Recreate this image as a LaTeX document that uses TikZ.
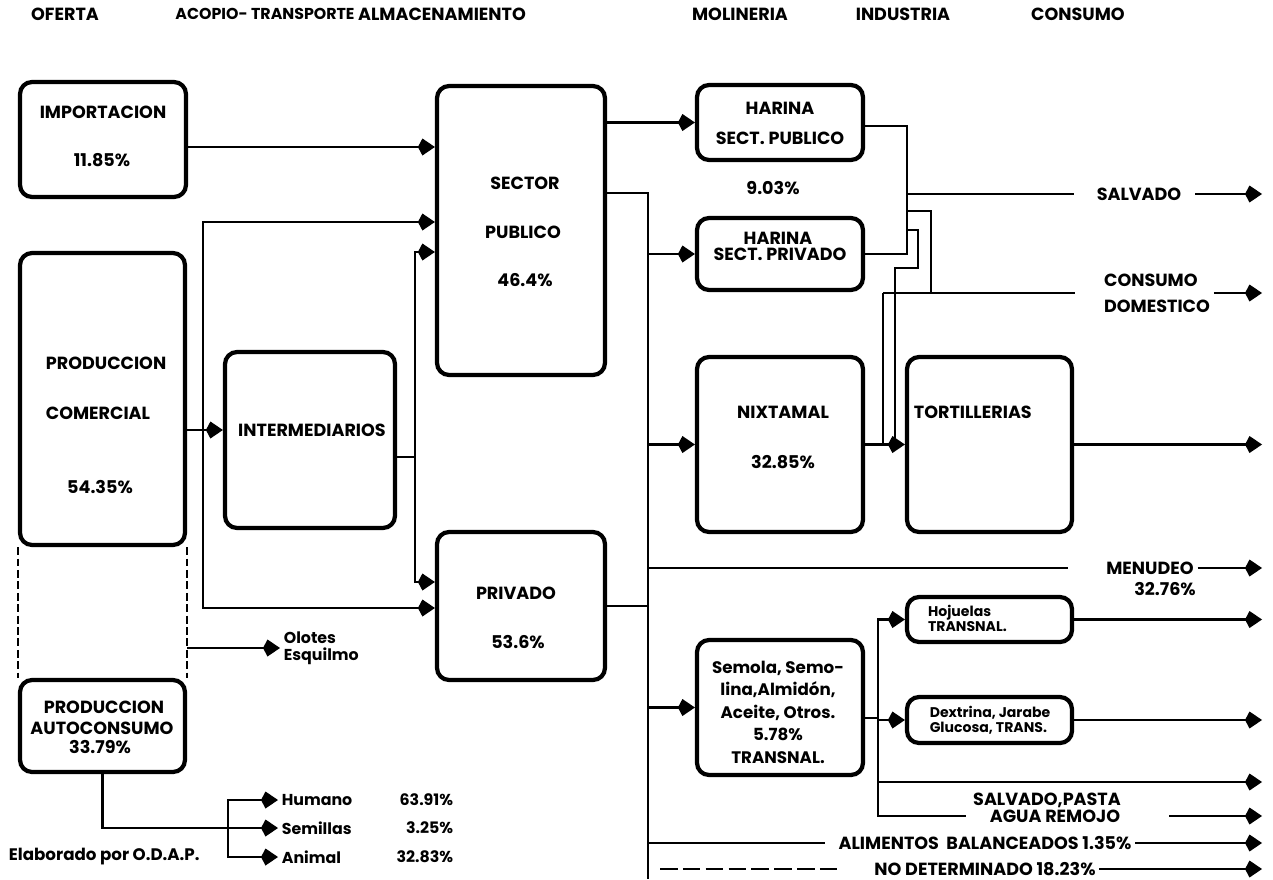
\documentclass[tikz,border=0pt]{standalone}
\usepackage{fontspec}
\setmainfont{Poppins}
\usetikzlibrary{arrows.meta}

\tikzset{
 caja/.style={draw, line width=2.4pt, rounded corners=0.24cm, inner sep=0pt},
 flecha/.style={line width=1.3pt, -{Kite[length=0.34cm,width=0.34cm,inset=0.09cm]}},
 linea/.style={line width=1.3pt},
 rotulo/.style={font=\bfseries\fontsize{10}{12}\selectfont, inner sep=2pt},
 medio/.style={font=\bfseries\fontsize{9}{9.6}\selectfont, inner sep=2pt},
 chico/.style={font=\bfseries\fontsize{8}{8.6}\selectfont, inner sep=1pt},
}

\begin{document}
\begin{tikzpicture}[x=0.02cm, y=-0.02cm]
 \path[use as bounding box, fill=white] (0,0) rectangle (1273,879);

 % columnas
 \node[rotulo] (T1) at (65,14) {OFERTA};
 \node[rotulo, font=\bfseries\fontsize{9}{11}\selectfont] (T2) at (265,14) {ACOPIO- TRANSPORTE};
 \node[rotulo] (T3) at (442,14) {ALMACENAMIENTO};
 \node[rotulo] (T4) at (740,14) {MOLINERIA};
 \node[rotulo] (T5) at (903,14) {INDUSTRIA};
 \node[rotulo] (T6) at (1078,14) {CONSUMO};

 % cajas
 \node[caja, minimum width=3.32cm, minimum height=2.30cm] (Imp) at (103,139.5) {};
 \node[caja, minimum width=3.30cm, minimum height=5.84cm] (Com) at (102.5,399) {};
 \node[caja, minimum width=3.30cm, minimum height=1.84cm] (Aut) at (102.5,726) {};
 \node[caja, minimum width=3.40cm, minimum height=3.52cm] (Int) at (310,440) {};
 \node[caja, minimum width=3.36cm, minimum height=5.78cm] (SP) at (521,230.5) {};
 \node[caja, minimum width=3.36cm, minimum height=2.96cm] (PR) at (521,606) {};
 \node[caja, minimum width=3.32cm, minimum height=1.50cm] (HP) at (780,122.5) {};
 \node[caja, minimum width=3.32cm, minimum height=1.44cm] (HV) at (780,254) {};
 \node[caja, minimum width=3.32cm, minimum height=3.50cm] (Nix) at (780,444.5) {};
 \node[caja, minimum width=3.30cm, minimum height=3.50cm] (Tor) at (989.5,444.5) {};
 \node[caja, minimum width=3.32cm, minimum height=2.70cm] (Sem) at (780,707.5) {};
 \node[caja, minimum width=3.30cm, minimum height=0.90cm] (Hoj) at (989.5,619.5) {};
 \node[caja, minimum width=3.30cm, minimum height=0.92cm] (Dex) at (989.5,720) {};

 % textos de las cajas
 \node[rotulo] (Imp1) at (103,112) {IMPORTACION};
 \node[rotulo] (Imp2) at (102,160) {11.85\%};
 \node[rotulo, anchor=west] (Com1) at (42,363) {PRODUCCION};
 \node[rotulo, anchor=west] (Com2) at (42,413) {COMERCIAL};
 \node[rotulo] (Com3) at (100,487) {54.35\%};
 \node[rotulo] (Int1) at (312,430) {INTERMEDIARIOS};
 \node[rotulo] (SP1) at (525,183) {SECTOR};
 \node[rotulo] (SP2) at (523,232) {PUBLICO};
 \node[rotulo] (SP3) at (525,280) {46.4\%};
 \node[rotulo] (PR1) at (516,593) {PRIVADO};
 \node[rotulo] (PR2) at (518,642) {53.6\%};
 \node[rotulo] (Aut1) at (104,707) {PRODUCCION};
 \node[rotulo] (Aut2) at (102,728) {AUTOCONSUMO};
 \node[rotulo] (Aut3) at (100,747) {33.79\%};
 \node[rotulo] (HP1) at (780,108) {HARINA};
 \node[rotulo] (HP2) at (780,138) {SECT. PUBLICO};
 \node[rotulo] (HPc) at (773,188) {9.03\%};
 \node[rotulo] (HV1) at (778,238) {HARINA};
 \node[rotulo] (HV2) at (780,254) {SECT. PRIVADO};
 \node[rotulo] (Nix1) at (783,412) {NIXTAMAL};
 \node[rotulo] (Nix2) at (783,462) {32.85\%};
 \node[rotulo, anchor=west] (Tor1) at (910,412) {TORTILLERIAS};
 \node[medio, align=center, font=\bfseries\fontsize{9.5}{12.8}\selectfont] (Sem1) at (778,712)
  {Semola, Semo-\\lina,Almidón,\\Aceite, Otros.\\5.78\%\\TRANSNAL.};
 \node[chico, align=left, anchor=west] (Hoj1) at (926,618) {Hojuelas\\TRANSNAL.};
 \node[chico, align=left] (Dex1) at (990,720) {Dextrina, Jarabe\\Glucosa, TRANS.};

 % consumo
 \node[rotulo] (Salv) at (1139,194) {SALVADO};
 \node[rotulo, align=left, font=\bfseries\fontsize{10}{14.7}\selectfont] (Dom) at (1157,293) {CONSUMO\\DOMESTICO};
 \node[rotulo] (Men) at (1150,568) {MENUDEO};
 \node[rotulo] (Men2) at (1165,589) {32.76\%};
 \node[rotulo] (Sp) at (1047,800) {SALVADO,PASTA};
 \node[rotulo] (Agua) at (1055,816) {AGUA REMOJO};
 \node[rotulo] (Ali) at (985,843) {ALIMENTOS\ \ BALANCEADOS 1.35\%};
 \node[rotulo] (NoD) at (985,869) {NO DETERMINADO 18.23\%};

 % autoconsumo
 \node[medio, align=left, anchor=west] (Olo) at (280,648) {Olotes\\Esquilmo};
 \node[medio, anchor=west] (Hum) at (278,800) {Humano};
 \node[medio, anchor=west] (Sml) at (278,828) {Semillas};
 \node[medio, anchor=west] (Ani) at (278,857) {Animal};
 \node[medio, anchor=east] (P1) at (457,800) {63.91\%};
 \node[medio, anchor=east] (P2) at (457,828) {3.25\%};
 \node[medio, anchor=east] (P3) at (457,857) {32.83\%};
 \node[medio, anchor=west, font=\bfseries\fontsize{9.5}{10}\selectfont] (Ela) at (5,857) {Elaborado por O.D.A.P.};

 % puntos de enlace
 \coordinate (J1) at (203,430);
 \coordinate (J2) at (415,457);
 \coordinate (J3) at (228,828);
 \coordinate (J4) at (648,193);
 \coordinate (J5) at (648,879);
 \coordinate (J6) at (878,718);
 \coordinate (J7) at (907,126);
 \coordinate (J8) at (931,293);
 \coordinate (J9) at (883,443);
 \coordinate (der) at (1262,0);

 % oferta y acopio
 \draw[flecha] (Imp.east |- 0,147) -- (SP.west |- 0,147);
 \draw[flecha] (Com.east |- J1) -- (Int.west |- J1);
 \draw[flecha] (J1) |- (SP.west |- 0,222);
 \draw[flecha] (J1) |- (PR.west |- 0,608);
 \draw[linea, dash pattern=on 4.5pt off 2pt] (Com.south west) -- (Aut.north west);
 \draw[linea, dash pattern=on 4.5pt off 2pt] (Com.south east) -- (Aut.north east);
 \draw[flecha] (Com.east |- Olo.west) -- (Olo.west);
 \draw[flecha] (Aut.south) |- (Sml.west);
 \draw[flecha] (J3) |- (Hum.west);
 \draw[flecha] (J3) |- (Ani.west);
 \draw[linea] (Int.east |- J2) -- (J2);
 \draw[flecha] (J2) |- (SP.west |- 0,252);
 \draw[flecha] (J2) |- (PR.west |- 0,582);

 % almacenamiento
 \draw[flecha] (SP.east |- HP.west) -- (HP.west);
 \draw[linea] (SP.east |- J4) -- (J4) -- (J5);
 \draw[flecha] (J4 |- HV.west) -- (HV.west);
 \draw[flecha] (J4 |- Nix.west) -- (Nix.west);
 \draw[flecha] (J4 |- Sem.west) -- (Sem.west);
 \draw[linea] (PR.east) -- (PR.east -| J4);

 % molineria e industria
 \draw[linea] (HP.east |- J7) -- (J7) -- (J7 |- HV.east) -- (HV.east);
 \draw[linea, shorten >=0.38cm] (J7 |- Salv.west) -- (Salv.west);
 \draw[flecha, shorten <=0.2cm] (Salv.east) -- (der |- Salv.east);
 \draw[linea] (J7 |- 0,211) -| (J8);
 \draw[linea] (J7 |- 0,230) -| (918,268) -| (895,443);
 \draw[linea] (J9) -- (J9 |- J8);
 \draw[linea, shorten >=0.5cm] (J9 |- J8) -- (J8 -| Dom.west);
 \draw[flecha] (Dom.east) -- (der |- Dom.east);
 \draw[flecha] (Nix.east) -- (Tor.west);
 \draw[flecha] (Tor.east) -- (der |- Tor.east);
 \draw[linea, shorten >=0.7cm] (J4 |- Men.west) -- (Men.west);
 \draw[flecha] (Men.east) -- (der |- Men.east);
 \draw[linea] (Sem.east |- J6) -- (J6);
 \draw[flecha] (J6) |- (Hoj.west);
 \draw[flecha] (J6 |- Dex.west) -- (Dex.west);
 \draw[flecha] (Hoj.east) -- (der |- Hoj.east);
 \draw[flecha] (Dex.east) -- (der |- Dex.east);
 \draw[flecha] (J6 |- 0,782) -- (der |- 0,782);
 \draw[linea, shorten >=0.4cm] (J6) |- (Agua.west);
 \draw[flecha, shorten <=0.9cm] (Agua.east) -- (der |- Agua.east);
 \draw[linea, shorten >=0.2cm] (J4 |- Ali.west) -- (Ali.west);
 \draw[flecha] (Ali.east) -- (der |- Ali.east);
 \draw[linea, dash pattern=on 10pt off 3pt, shorten <=0.24cm, shorten >=0.6cm] (J4 |- NoD.west) -- (NoD.west);
 \draw[flecha] (NoD.east) -- (der |- NoD.east);
\end{tikzpicture}
\end{document}
